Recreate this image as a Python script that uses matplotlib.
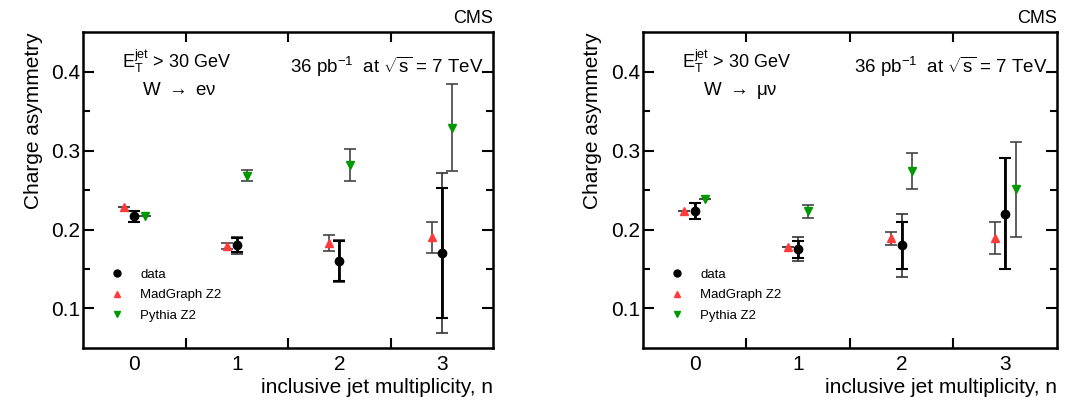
import numpy as np
import matplotlib
matplotlib.use("Agg")
from matplotlib import pyplot as plt
from matplotlib.lines import Line2D

plt.rcParams['font.family'] = ['Liberation Sans', 'DejaVu Sans']
plt.rcParams['mathtext.fontset'] = 'custom'
plt.rcParams['mathtext.rm'] = 'Liberation Sans'
plt.rcParams['mathtext.it'] = 'Liberation Sans:italic'
plt.rcParams['mathtext.bf'] = 'Liberation Sans:bold'

# jet multiplicity bins
n_jets = np.array([0, 1, 2, 3])
tick_labels = ['0', '1', '2', '3']

# W -> e nu
data_e = [0.217, 0.180, 0.160, 0.170]
data_e_stat = [0.007, 0.009, 0.025, 0.082]
data_e_tot = [0.007, 0.011, 0.027, 0.101]
mg_e = [0.228, 0.179, 0.183, 0.190]
mg_e_err = [0.0, 0.004, 0.010, 0.020]
py_e = [0.217, 0.268, 0.282, 0.329]
py_e_err = [0.0, 0.007, 0.020, 0.055]

# W -> mu nu
data_m = [0.223, 0.175, 0.180, 0.220]
data_m_stat = [0.010, 0.011, 0.030, 0.070]
data_m_tot = [0.010, 0.015, 0.040, 0.070]
mg_m = [0.223, 0.178, 0.189, 0.189]
mg_m_err = [0.0, 0.0, 0.008, 0.020]
py_m = [0.238, 0.223, 0.274, 0.251]
py_m_err = [0.0, 0.008, 0.023, 0.060]

RED = '#ff3a3a'
GREEN = '#009900'


def draw_panel(ax, data, stat, tot, mg, mg_err, py, py_err, channel):
    # MC predictions, shifted left/right of the data
    ax.errorbar(n_jets - 0.1, mg, yerr=mg_err, fmt='^', color=RED, ms=6,
                mec=RED, ecolor='#444444', elinewidth=1.2, capsize=4, capthick=1.2)
    ax.errorbar(n_jets + 0.1, py, yerr=py_err, fmt='v', color=GREEN, ms=6,
                mec=GREEN, ecolor='#444444', elinewidth=1.2, capsize=4, capthick=1.2)
    # data: total and stat errors
    ax.errorbar(n_jets, data, yerr=tot, fmt='none', ecolor='#333333',
                elinewidth=1.2, capsize=4, capthick=1.2)
    ax.errorbar(n_jets, data, yerr=stat, fmt='o', color='black', ms=6,
                ecolor='black', elinewidth=2, capsize=4, capthick=1.5)

    ax.set_xlim(-0.5, 3.5)
    ax.set_ylim(0.05, 0.45)
    ax.set_xticks(n_jets)
    ax.set_xticklabels(tick_labels)
    ax.set_xticks([0.5, 1.5, 2.5], minor=True)
    ax.set_yticks([0.1, 0.2, 0.3, 0.4])
    ax.set_yticks([0.15, 0.25, 0.35], minor=True)
    ax.tick_params(axis='x', which='major', length=0, labelsize=15, pad=5)
    ax.tick_params(axis='x', which='minor', length=7, width=1.5,
                   direction='in', top=True, bottom=True)
    ax.tick_params(axis='y', which='major', length=8, width=1.5,
                   direction='in', left=True, right=True, labelsize=15, pad=2)
    ax.tick_params(axis='y', which='minor', length=5, width=1.5,
                   direction='in', left=True, right=True)
    for s in ax.spines.values():
        s.set_linewidth(1.8)

    ax.set_ylabel('Charge asymmetry', fontsize=15, loc='top', labelpad=6)
    ax.set_xlabel('inclusive jet multiplicity, n', fontsize=15, loc='right',
                  labelpad=3)
    ax.text(1.0, 1.015, 'CMS', transform=ax.transAxes, ha='right',
            va='bottom', fontsize=13)
    ax.text(0.095, 0.885, r'E$_\mathrm{T}^\mathrm{jet}$ > 30 GeV',
            transform=ax.transAxes, fontsize=13)
    ax.text(0.978, 0.87, r'36 pb$^{-1}$  at $\sqrt{\mathrm{s}}$ = 7 TeV',
            transform=ax.transAxes, ha='right', fontsize=13.5)
    ax.text(0.145, 0.80, channel, transform=ax.transAxes, fontsize=13.5)

    handles = [
        Line2D([], [], marker='o', color='black', ls='none', ms=5),
        Line2D([], [], marker='^', color=RED, ls='none', ms=5),
        Line2D([], [], marker='v', color=GREEN, ls='none', ms=5),
    ]
    ax.legend(handles, ['data', 'MadGraph Z2', 'Pythia Z2'], loc='upper left',
              bbox_to_anchor=(0.05, 0.272), frameon=False, fontsize=9.5,
              handletextpad=1.3, labelspacing=0.62, borderpad=0,
              handlelength=1.0)


fig = plt.figure(figsize=(10.73, 4.03), dpi=100)
ax1 = fig.add_axes([0.0774, 0.1365, 0.3821, 0.784])
ax2 = fig.add_axes([0.599, 0.1365, 0.3861, 0.784])

draw_panel(ax1, data_e, data_e_stat, data_e_tot, mg_e, mg_e_err, py_e,
           py_e_err, 'W $\\rightarrow$ e\u03bd')
draw_panel(ax2, data_m, data_m_stat, data_m_tot, mg_m, mg_m_err, py_m,
           py_m_err, 'W $\\rightarrow$ \u03bc\u03bd')

fig.savefig('out.png', dpi=100)
